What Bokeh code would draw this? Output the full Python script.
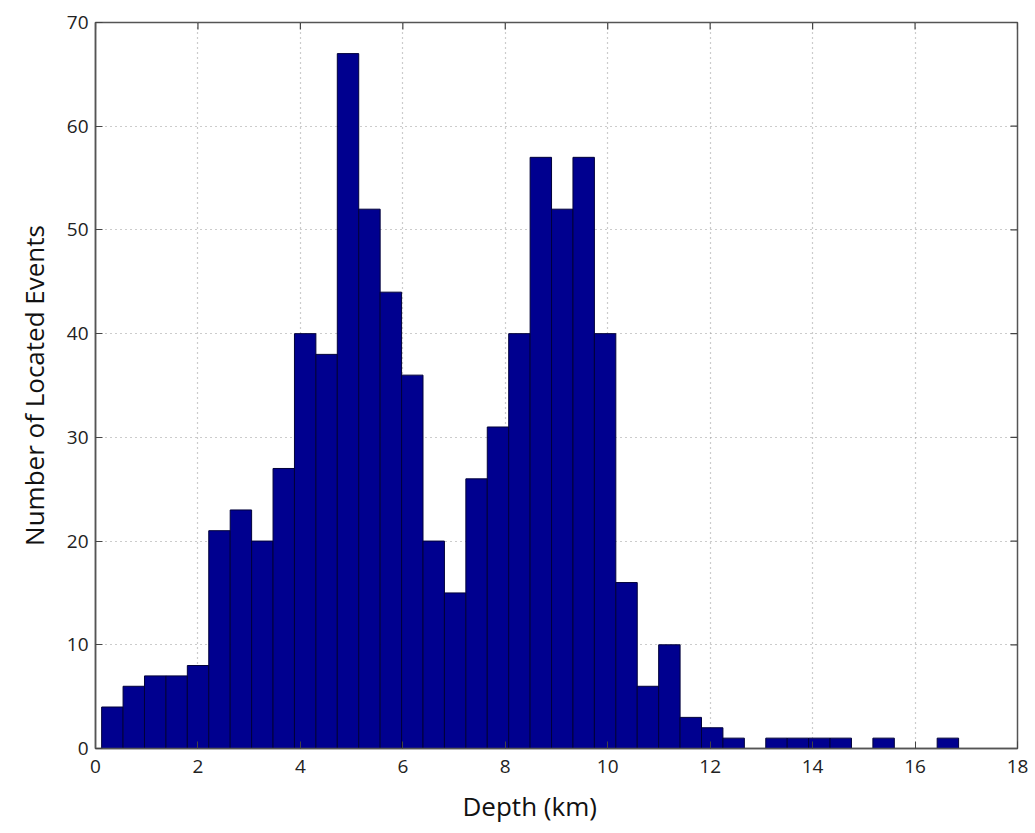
import numpy as np
from bokeh.plotting import figure
from bokeh.models import FixedTicker, Range1d, Title
from bokeh.embed import file_html
from bokeh.resources import INLINE

# Histogram of event depths (40 bins between min and max depth)
depth_min = 0.12
depth_max = 16.85
counts = [4, 6, 7, 7, 8, 21, 23, 20, 27, 40,
          38, 67, 52, 44, 36, 20, 15, 26, 31, 40,
          57, 52, 57, 40, 16, 6, 10, 3, 2, 1,
          0, 1, 1, 1, 1, 0, 1, 0, 0, 1]
x_ticks = [0, 2, 4, 6, 8, 10, 12, 14, 16, 18]
y_ticks = [0, 10, 20, 30, 40, 50, 60, 70]
x_label = "Depth (km)"
y_label = "Number of Located Events"

edges = np.linspace(depth_min, depth_max, len(counts) + 1)
c = np.array(counts)
mask = c > 0
left = edges[:-1][mask]
right = edges[1:][mask]
top = c[mask]

FONT = "Open Sans"
X0, X1, Y0, Y1 = 0, 18, 0, 70

p = figure(width=1035, height=833, output_backend="svg", toolbar_location=None,
           x_range=Range1d(X0, X1), y_range=Range1d(Y0, Y1),
           min_border_left=95, min_border_right=18, min_border_top=22, min_border_bottom=84)
p.background_fill_color = "white"
p.border_fill_color = "white"
p.outline_line_color = "#555555"
p.outline_line_width = 1.5

p.quad(left=left, right=right, top=top, bottom=0,
       fill_color="#00008f", line_color="#00003a", line_width=1)

for ax in (p.xaxis[0], p.yaxis[0]):
    ax.axis_line_color = "#555555"
    ax.axis_line_width = 1.5
    ax.major_tick_in = 7
    ax.major_tick_out = 0
    ax.major_tick_line_color = "#444444"
    ax.minor_tick_line_color = None
    ax.major_label_text_font = FONT
    ax.major_label_text_font_size = "19px"
    ax.major_label_text_color = "#222222"
    ax.axis_label_text_font = FONT
    ax.axis_label_text_font_size = "26px"
    ax.axis_label_text_font_style = "normal"
    ax.axis_label_text_color = "#111111"

p.xaxis[0].ticker = FixedTicker(ticks=x_ticks)
p.yaxis[0].ticker = FixedTicker(ticks=y_ticks)
p.yaxis[0].axis_label = y_label
p.xaxis[0].major_label_standoff = 11
p.yaxis[0].major_label_standoff = 7
p.yaxis[0].axis_label_standoff = 12

# x-axis title, a little left of the frame centre as in the original
p.add_layout(Title(text=x_label, align="left", offset=367,
                   text_font=FONT, text_font_size="26px", text_font_style="normal",
                   text_color="#111111", standoff=20), "below")

# box ticks on the top and right edges (MATLAB style), 7 px long
frame_w = 1035 - 95 - 18
frame_h = 833 - 22 - 84
tx = 7 * (X1 - X0) / frame_w
ty = 7 * (Y1 - Y0) / frame_h
p.segment(x0=x_ticks, x1=x_ticks, y0=[Y1] * len(x_ticks), y1=[Y1 - ty] * len(x_ticks),
          line_color="#444444", line_width=1.2)
p.segment(x0=[X1] * len(y_ticks), x1=[X1 - tx] * len(y_ticks), y0=y_ticks, y1=y_ticks,
          line_color="#444444", line_width=1.2)

p.xgrid.ticker = FixedTicker(ticks=x_ticks)
p.ygrid.ticker = FixedTicker(ticks=y_ticks)
for g in (p.xgrid[0], p.ygrid[0]):
    g.grid_line_color = "#999999"
    g.grid_line_dash = "1 4"
    g.grid_line_width = 1.2

open("out.html", "w").write(file_html(p, INLINE))
